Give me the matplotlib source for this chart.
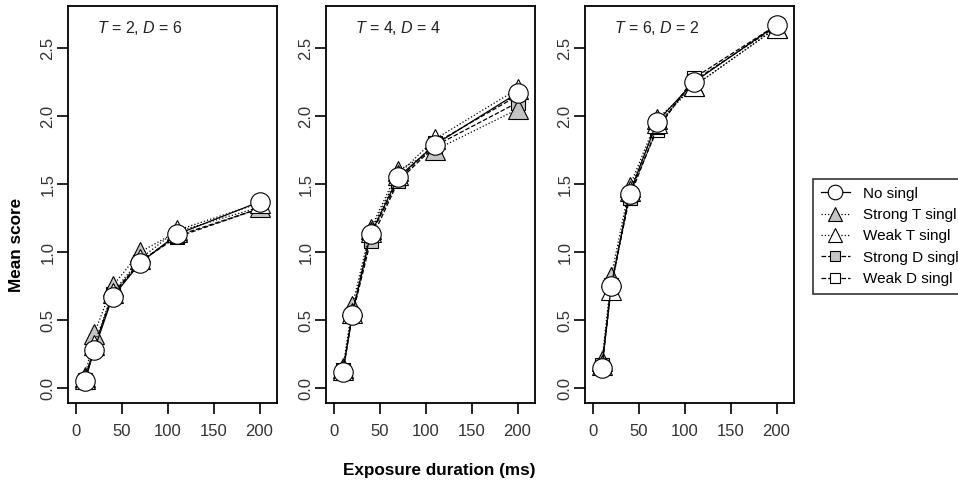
import matplotlib
matplotlib.use('Agg')
from matplotlib import pyplot as plt

plt.rcParams['font.family'] = ['Liberation Sans', 'DejaVu Sans']
plt.rcParams['mathtext.fontset'] = 'custom'
plt.rcParams['mathtext.it'] = 'Liberation Sans:italic'
plt.rcParams['mathtext.rm'] = 'Liberation Sans'

# exposure durations (ms)
durations = [10, 20, 40, 70, 110, 200]

panel_titles = ['$T$ = 2, $D$ = 6', '$T$ = 4, $D$ = 4', '$T$ = 6, $D$ = 2']
series_names = ['No singl', 'Strong T singl', 'Weak T singl', 'Strong D singl', 'Weak D singl']

# mean scores per panel, per condition
no_singl = [
    [0.05, 0.28, 0.67, 0.92, 1.13, 1.37],
    [0.12, 0.54, 1.13, 1.55, 1.79, 2.17],
    [0.15, 0.75, 1.43, 1.96, 2.25, 2.67],
]
strong_t = [
    [0.08, 0.40, 0.75, 1.00, 1.15, 1.33],
    [0.15, 0.60, 1.17, 1.60, 1.75, 2.05],
    [0.20, 0.82, 1.48, 1.98, 2.22, 2.65],
]
weak_t = [
    [0.07, 0.32, 0.70, 0.95, 1.16, 1.36],
    [0.13, 0.55, 1.15, 1.57, 1.83, 2.20],
    [0.17, 0.72, 1.45, 1.95, 2.22, 2.65],
]
strong_d = [
    [0.05, 0.30, 0.68, 0.93, 1.12, 1.32],
    [0.12, 0.53, 1.08, 1.52, 1.78, 2.10],
    [0.17, 0.76, 1.40, 1.92, 2.26, 2.66],
]
weak_d = [
    [0.06, 0.30, 0.69, 0.93, 1.11, 1.32],
    [0.13, 0.54, 1.12, 1.53, 1.80, 2.15],
    [0.16, 0.74, 1.43, 1.90, 2.28, 2.67],
]

gray = '#c4c4c4'
# marker, facecolor, linestyle, markersize, zorder
styles = [
    ('o', 'white', '-', 14, 6),
    ('^', gray, ':', 14, 3),
    ('^', 'white', ':', 14, 4),
    ('s', gray, '--', 10, 2),
    ('s', 'white', '--', 10, 2),
]
all_data = [no_singl, strong_t, weak_t, strong_d, weak_d]

fig = plt.figure(figsize=(9.58, 4.82), dpi=100)
lefts = [68, 326, 585]
W, H = 958, 482
axes = []
for p in range(3):
    ax = fig.add_axes([lefts[p] / W, 1 - 403 / H, 209 / W, 397 / H])
    axes.append(ax)
    # draw in reverse so that "No singl" sits on top
    for k in range(4, -1, -1):
        m, fc, ls, ms, z = styles[k]
        ax.plot(durations, all_data[k][p], marker=m, markerfacecolor=fc,
                markeredgecolor='black', markeredgewidth=0.8, color='black',
                linestyle=ls, linewidth=0.9, markersize=ms, zorder=z,
                label=series_names[k])
    ax.set_xlim(-8.5, 219)
    ax.set_ylim(-0.11, 2.81)
    ax.set_xticks([0, 50, 100, 150, 200])
    ax.set_yticks([0.0, 0.5, 1.0, 1.5, 2.0, 2.5])
    ax.set_yticklabels(['0.0', '0.5', '1.0', '1.5', '2.0', '2.5'],
                       rotation=90, va='center')
    ax.tick_params(direction='out', length=8, width=1.2, labelsize=12,
                   labelcolor='#333333')
    ax.tick_params(axis='x', pad=7)
    ax.tick_params(axis='y', pad=1)
    for s in ax.spines.values():
        s.set_linewidth(1.3)
    ax.text(0.14, 0.945, panel_titles[p], transform=ax.transAxes,
            fontsize=11.5, ha='left', va='center', color='#222222')

fig.text(17 / W, 1 - 245 / H, 'Mean score', ha='center', va='center',
         rotation=90, fontsize=12.3, fontweight='bold')
fig.text(439 / W, 1 - 470 / H, 'Exposure duration (ms)', ha='center',
         va='center', fontsize=12.3, fontweight='bold')

handles, labels = axes[0].get_legend_handles_labels()
handles = handles[::-1]
labels = labels[::-1]
leg = fig.legend(handles, labels, loc='upper left',
                 bbox_to_anchor=(813 / W, 1 - 179 / H), borderaxespad=0,
                 fontsize=11, frameon=True, fancybox=False, handlelength=1.9,
                 handletextpad=0.85, borderpad=0.5, labelspacing=0.48,
                 markerscale=0.75)
leg.get_frame().set_edgecolor('black')
leg.get_frame().set_linewidth(1.2)

plt.savefig('out.png', dpi=100)
